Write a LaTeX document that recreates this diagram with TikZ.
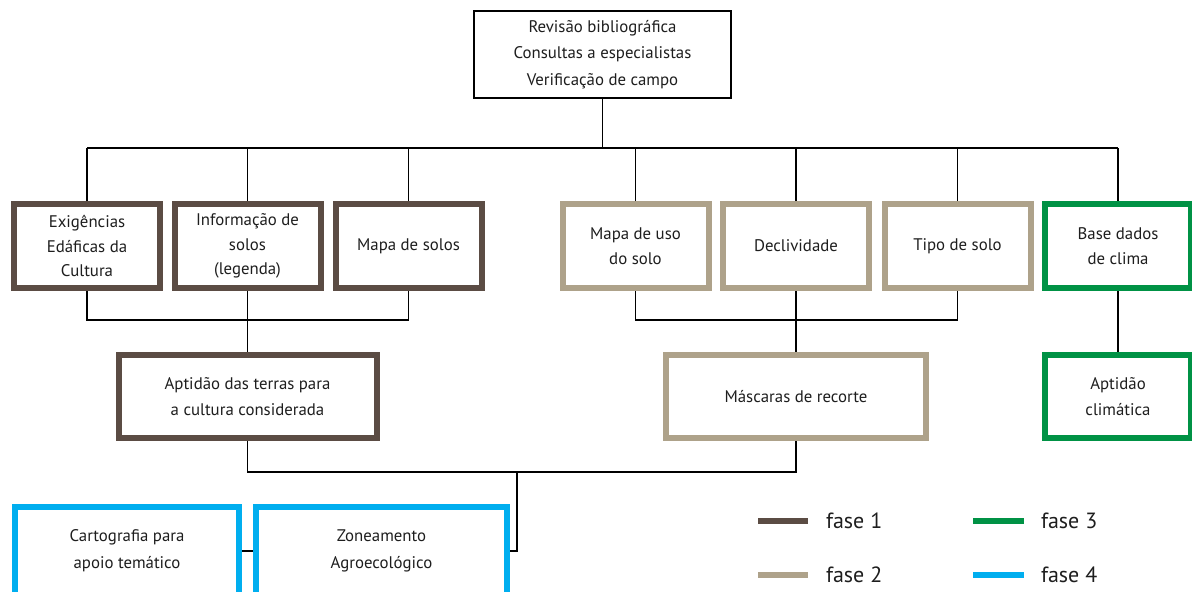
\documentclass[tikz,border=0pt]{standalone}
\usepackage{fontspec}
\setmainfont{PT Sans}
\definecolor{cA}{HTML}{5B4C44}
\definecolor{cB}{HTML}{AEA28A}
\definecolor{cC}{HTML}{009245}
\definecolor{cD}{HTML}{00AEEF}
\definecolor{txt}{HTML}{1E1E1E}
\begin{document}
\begin{tikzpicture}[x=0.75pt,y=-0.75pt,
  box/.style={draw, line width=4.5pt, fill=white, align=center, inner sep=0pt,
    text=txt, font=\fontsize{12.6}{18.5}\selectfont},
  smallbox/.style={box, minimum width=109.5pt, minimum height=63pt},
  f1/.style={draw=cA}, f2/.style={draw=cB}, f3/.style={draw=cC}, f4/.style={draw=cD},
  conn/.style={draw=black, line width=0.9pt},
  leg/.style={line width=4.5pt},
  legtext/.style={text=txt, anchor=west, inner sep=0pt, font=\fontsize{16.5}{18}\selectfont}]
\useasboundingbox (0,0) rectangle (1192,592);
\fill[white] (0,0) rectangle (1192,592);

\node[box, draw=black, line width=1.5pt, minimum width=192.75pt, minimum height=65.25pt,
  font=\fontsize{12.6}{20}\selectfont] (top) at (602.5,54.5)
  {Revisão bibliográfica\\Consultas a especialistas\\Verificação de campo};

\node[smallbox,f1] (b1) at (87,246) {Exigências\\Edáficas da\\Cultura};
\node[smallbox,f1] (b2) at (247.5,246) {Informação de\\solos\\(legenda)};
\node[smallbox,f1] (b3) at (408.5,246) {Mapa de solos};
\node[smallbox,f2] (b4) at (635.5,246) {Mapa de uso\\do solo};
\node[smallbox,f2] (b5) at (796,246) {Declividade};
\node[smallbox,f2] (b6) at (957.5,246) {Tipo de solo};
\node[smallbox,f3] (b7) at (1118,246) {Base dados\\de clima};

\node[box,f1, minimum width=193.5pt, minimum height=62.25pt, font=\fontsize{12.6}{20}\selectfont] (a1) at (247.5,396.5) {Aptidão das terras para\\a cultura considerada};
\node[box,f2, minimum width=195pt, minimum height=62.25pt] (a2) at (796,396.5) {Máscaras de recorte};
\node[box,f3, minimum width=109.5pt, minimum height=62.25pt, font=\fontsize{12.6}{20}\selectfont] (a3) at (1118,396.5) {Aptidão\\climática};

\node[box,f4, minimum width=168pt, minimum height=66pt, font=\fontsize{12.6}{20}\selectfont] (c1) at (127,551) {Cartografia para\\apoio temático};
\node[box,f4, minimum width=188.25pt, minimum height=66pt, font=\fontsize{12.6}{20}\selectfont] (c2) at (381.5,551) {Zoneamento\\Agroecológico};

\coordinate (bus1) at (602.5,148);
\coordinate (bus2) at (0,320);
\coordinate (bus3) at (517,472);

\draw[conn] (top.south) -- (bus1);
\draw[conn] (b1.north |- bus1) -- (b7.north |- bus1);
\foreach \n in {b1,b2,b3,b4,b5,b6,b7} \draw[conn] (\n.north) -- (\n.north |- bus1);

\draw[conn] (b1.south) |- (b3.south |- bus2) -- (b3.south);
\draw[conn] (b2.south) -- (a1.north);
\draw[conn] (b4.south) |- (b6.south |- bus2) -- (b6.south);
\draw[conn] (b5.south) -- (a2.north);
\draw[conn] (b7.south) -- (a3.north);

\draw[conn] (a1.south) |- (a2.south |- bus3) -- (a2.south);
\draw[conn] (bus3) |- (c2.east);
\draw[conn] (c1.east) -- (c2.west);

\coordinate (l1) at (758,521);
\coordinate (l2) at (758,575);
\coordinate (l3) at (973,521);
\coordinate (l4) at (973,575);
\draw[leg, cA] (l1) -- ++(50,0) node[legtext, right=15pt*0.75] (t1) {fase 1};
\draw[leg, cB] (l2) -- ++(50,0) node[legtext, right=15pt*0.75] (t2) {fase 2};
\draw[leg, cC] (l3) -- ++(51,0) node[legtext, right=14pt*0.75] (t3) {fase 3};
\draw[leg, cD] (l4) -- ++(51,0) node[legtext, right=14pt*0.75] (t4) {fase 4};
\end{tikzpicture}
\end{document}
